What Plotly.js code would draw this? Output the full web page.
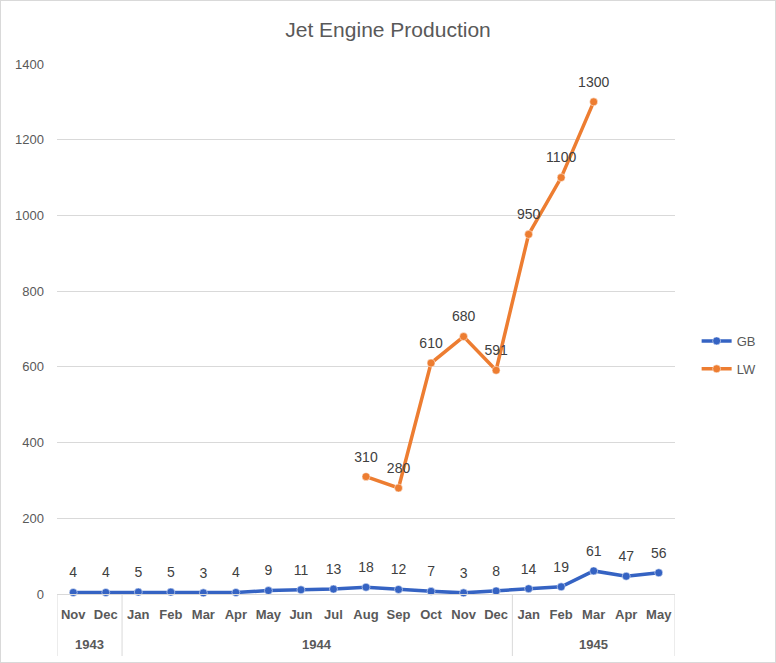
<!DOCTYPE html>
<html>
<head>
<meta charset="utf-8">
<script src="https://cdn.plot.ly/plotly-3.0.1.min.js"></script>
<style>
  body { margin: 0; }
  #chart { width: 774px; height: 661px; border: 1px solid #d9d9d9; }
</style>
</head>
<body>
<div id="chart"></div>
<script>
var years = ["1943", "1943", "1944", "1944", "1944", "1944", "1944", "1944", "1944", "1944",
             "1944", "1944", "1944", "1944", "1945", "1945", "1945", "1945", "1945"];
var months = ["Nov", "Dec", "Jan", "Feb", "Mar", "Apr", "May", "Jun", "Jul", "Aug",
              "Sep", "Oct", "Nov", "Dec", "Jan", "Feb", "Mar", "Apr", "May"];
var gb = [4, 4, 5, 5, 3, 4, 9, 11, 13, 18, 12, 7, 3, 8, 14, 19, 61, 47, 56];
var lw = [null, null, null, null, null, null, null, null, null, 310,
          280, 610, 680, 591, 950, 1100, 1300, null, null];

var textColor = "#595959";
var gridColor = "#d9d9d9";
var idx = months.map(function (m, i) { return i; });

function series(name, vals, color) {
  return {
    x: idx,
    y: vals,
    name: name,
    legendgroup: name,
    type: "scatter",
    mode: "lines+markers",
    connectgaps: false,
    line: { color: color, width: 3.5 },
    marker: { color: color, size: 8, line: { color: "#ffffff", width: 0.5 } },
    cliponaxis: false
  };
}

// data labels on a transparent marker layer so they sit a bit higher
function labels(name, vals) {
  return {
    x: idx,
    y: vals,
    name: name + " labels",
    type: "scatter",
    mode: "markers+text",
    showlegend: false,
    hoverinfo: "skip",
    text: vals.map(function (v) { return v === null ? "" : String(v); }),
    textposition: "top center",
    textfont: { size: 14, color: "#404040" },
    marker: { size: 17, color: "rgba(0,0,0,0)" },
    cliponaxis: false
  };
}

var data = [
  series("GB", gb, "#3563C3"),
  series("LW", lw, "#ED7D31"),
  labels("GB", gb),
  labels("LW", lw)
];

// year groups: label in the middle, divider lines at the edges
var groups = [];
years.forEach(function (y, i) {
  var g = groups[groups.length - 1];
  if (g && g.year === y) { g.end = i; }
  else { groups.push({ year: y, start: i, end: i }); }
});

var shapes = [];
var annotations = [];
groups.forEach(function (g, k) {
  if (k === 0) {
    shapes.push({ type: "line", xref: "x", yref: "paper", x0: g.start - 0.5, x1: g.start - 0.5,
                  y0: 0, y1: -0.117, line: { color: gridColor, width: 1 } });
  }
  shapes.push({ type: "line", xref: "x", yref: "paper", x0: g.end + 0.5, x1: g.end + 0.5,
                y0: 0, y1: -0.117, line: { color: gridColor, width: 1 } });
  annotations.push({ xref: "x", yref: "paper", x: (g.start + g.end) / 2, y: -0.096,
                     text: g.year, showarrow: false, yanchor: "middle",
                     font: { size: 13, color: textColor, weight: "bold" } });
});

var layout = {
  width: 774,
  height: 661,
  margin: { l: 56, r: 100, t: 63, b: 68, autoexpand: false },
  paper_bgcolor: "#ffffff",
  plot_bgcolor: "#ffffff",
  font: { family: "Liberation Sans, Arial, sans-serif", color: textColor, size: 12 },
  title: {
    text: "Jet Engine Production",
    font: { size: 21, color: textColor },
    x: 0.5,
    xanchor: "center",
    y: 0.957,
    yanchor: "middle"
  },
  xaxis: {
    range: [-0.5, months.length - 0.5],
    tickvals: idx,
    ticktext: months,
    tickangle: 0,
    showgrid: false,
    zeroline: false,
    showline: true,
    linecolor: gridColor,
    linewidth: 1,
    ticks: "",
    ticklabelstandoff: 8,
    tickfont: { size: 13, color: textColor, weight: "bold" }
  },
  yaxis: {
    range: [0, 1400],
    dtick: 200,
    showgrid: true,
    gridcolor: gridColor,
    zeroline: false,
    showline: false,
    ticks: "",
    ticklabelstandoff: 12,
    tickfont: { size: 13, color: textColor }
  },
  legend: {
    x: 1.035,
    xanchor: "left",
    y: 0.451,
    yanchor: "middle",
    font: { size: 13, color: textColor },
    tracegroupgap: 8,
    itemwidth: 30
  },
  shapes: shapes,
  annotations: annotations,
  showlegend: true
};

Plotly.newPlot("chart", data, layout, { displayModeBar: false, staticPlot: true });
</script>
</body>
</html>
